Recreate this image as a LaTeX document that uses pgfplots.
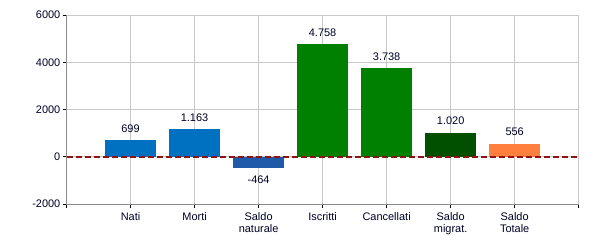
\documentclass[border=0pt]{standalone}
\usepackage{pgfplots}
\pgfplotsset{compat=1.18}
\usepackage{fontspec}
\setmainfont{Liberation Sans}
\definecolor{cblue}{RGB}{0,112,192}
\definecolor{cblue2}{RGB}{31,90,168}
\definecolor{cgreen}{RGB}{0,128,0}
\definecolor{cdgreen}{RGB}{0,80,0}
\definecolor{corange}{RGB}{255,127,63}
\definecolor{cred}{RGB}{140,20,20}
\definecolor{cgrid}{RGB}{200,200,200}
\definecolor{caxis}{RGB}{140,140,140}
\begin{document}
\begin{tikzpicture}
\path[use as bounding box] (-66.5bp,-46bp) rectangle (533.3bp,204bp);
\begin{axis}[
  scale only axis,
  width=512bp, height=189bp,
  at={(0,0)}, anchor=south west,
  xmin=-1, xmax=7,
  ymin=-2000, ymax=6000,
  ytick={-2000,0,2000,4000,6000},
  xtick={-1,0,1,2,3,4,5,6,7},
  xticklabels={,Nati,Morti,Saldo\\naturale,Iscritti,Cancellati,Saldo\\migrat.,Saldo\\Totale,},
  xticklabel style={align=center, font=\fontsize{11}{12.5}\selectfont, text=black!85!blue, inner ysep=4bp},
  yticklabel style={font=\fontsize{11}{12.5}\selectfont, text=black!85!blue, inner xsep=2bp},
  /pgf/number format/assume math mode=true,
  /pgf/number format/1000 sep={},
  grid=major,
  major grid style={cgrid, line width=0.75bp},
  axis line style={cgrid, line width=0.75bp},
  tick style={black, line width=0.75bp},
  tick align=outside,
  major tick length=4bp,
  xtick pos=bottom, ytick pos=left,
  ybar, bar width=51bp, bar shift=0pt,
  nodes near coords={\pgfmathprintnumber[1000 sep={.}]{\pgfplotspointmeta}},
  nodes near coords style={font=\fontsize{11}{12.5}\selectfont, text=black!85!blue, inner sep=7.5bp},
  every axis plot/.append style={draw=none},
  clip=false,
]
\addplot[fill=cblue] coordinates {(0,699)};
\addplot[fill=cblue] coordinates {(1,1163)};
\addplot[fill=cblue2] coordinates {(2,-464)};
\addplot[fill=cgreen] coordinates {(3,4758)};
\addplot[fill=cgreen] coordinates {(4,3738)};
\addplot[fill=cdgreen] coordinates {(5,1020)};
\addplot[fill=corange] coordinates {(6,556)};
\addplot[sharp plot, nodes near coords={}, draw=cred, line width=1.9bp, dash pattern=on 6bp off 3bp] coordinates {(-1,0) (7,0)};
\draw[caxis, line width=0.75bp] (axis cs:-1,6000) -- (axis cs:-1,-2000) -- (axis cs:7,-2000);
\end{axis}
\end{tikzpicture}
\end{document}
